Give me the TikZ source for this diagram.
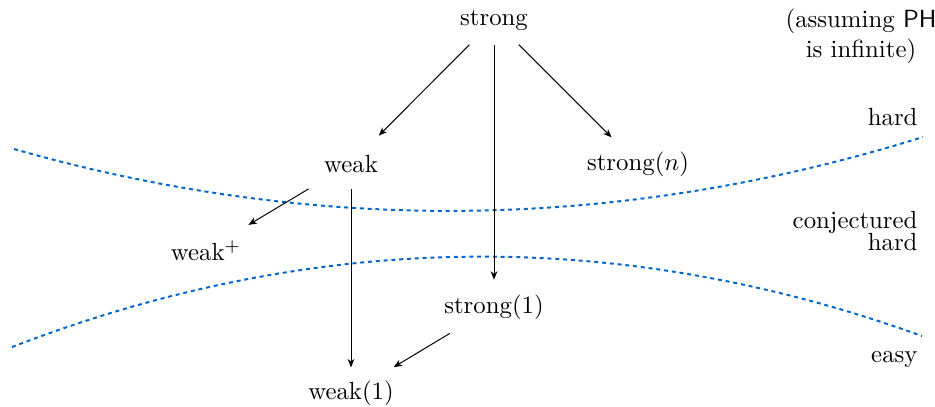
\documentclass[tikz,border=0pt]{standalone}
\usetikzlibrary{arrows.meta}
\definecolor{bnd}{RGB}{0,102,204}
\begin{document}
\begin{tikzpicture}[x=0.4032pt,y=-0.4032pt,
  lbl/.style={inner sep=3.33pt, anchor=base},
  side/.style={inner sep=0pt, anchor=base east, align=right},
  arr/.style={-{Stealth[length=3.4pt,width=2.7pt,inset=1pt]}},
  region/.style={draw=bnd, line width=0.8pt, dash pattern=on 1.6pt off 1.55pt}]
\useasboundingbox (0,0) rectangle (935,406);
% regions
\draw[region] (14,149) .. controls (317,235.3) and (620,231.3) .. (923,137);
\draw[region] (12,347) .. controls (315.3,230.3) and (618.7,226.6) .. (922,336);
% nodes
\node[lbl] (strong) at (494,25) {strong};
\node[lbl] (weak) at (351,172) {weak};
\node[lbl] (strongn) at (638,170) {strong$(n)$};
\node[lbl] (weakp) at (206,260) {weak$^+$};
\node[lbl] (strong1) at (494,313) {strong$(1)$};
\node[lbl] (weak1) at (351,399) {weak$(1)$};
% side labels
\node[inner sep=0pt, align=center, anchor=base] (ph) at (861,57) {(assuming \textsf{PH}\\is infinite)};
\node[side] (hard) at (918,125) {hard};
\node[side] (conj) at (918,250) {conjectured\\[-3.2pt]hard};
\node[side] (easy) at (918,362) {easy};
% arrows
\draw[arr, shorten <=3.3pt, shorten >=5.9pt] (strong) -- (weak);
\draw[arr, shorten <=3.3pt, shorten >=3pt] (strong) -- (strongn);
\draw[arr, shorten <=2.3pt, shorten >=2.4pt] (strong) -- (strong1);
\draw[arr, shorten <=3.1pt, shorten >=1.7pt] (weak) -- (weak1);
\draw[arr, shorten <=6.2pt, shorten >=5.2pt] (weak) -- (weakp);
\draw[arr, shorten <=4.2pt, shorten >=3.5pt] (strong1) -- (weak1);
\end{tikzpicture}
\end{document}
